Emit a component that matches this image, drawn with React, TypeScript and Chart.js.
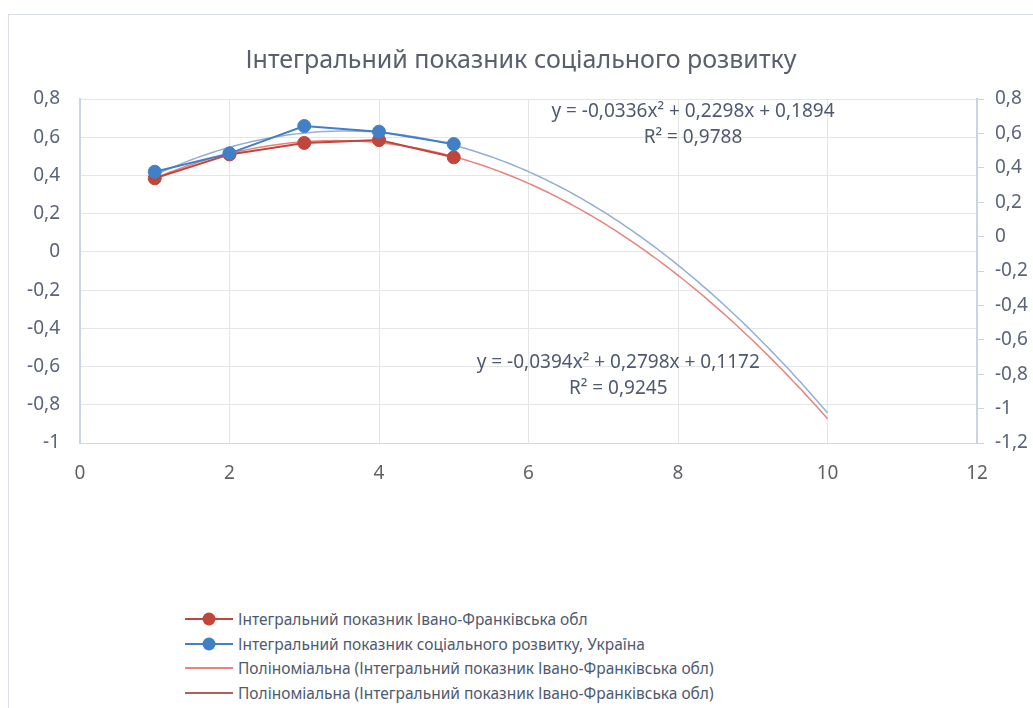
import React, { useEffect, useRef } from "react";
import { Chart, registerables } from "chart.js";

Chart.register(...registerables);

const FONT = "'Noto Sans', 'Open Sans', sans-serif";

// ---- data ----
const chartTitle = "Інтегральний показник соціального розвитку";
const periods = [1, 2, 3, 4, 5];
const ivanoFrankivskIndex = [0.385, 0.51, 0.57, 0.585, 0.495];
const ukraineIndex = [0.377, 0.484, 0.643, 0.61, 0.538];

// polynomial trend y = a·x² + b·x + c, with its R²
const ivanoFrankivskTrendCoef = [-0.0336, 0.2298, 0.1894];
const ivanoFrankivskTrendR2 = 0.9788;
const ukraineTrendCoef = [-0.0394, 0.2798, 0.1172];
const ukraineTrendR2 = 0.9245;
const trendSpan = [1, 10];

const xTickValues = [0, 2, 4, 6, 8, 10, 12];
const leftTickValues = [0.8, 0.6, 0.4, 0.2, 0, -0.2, -0.4, -0.6, -0.8, -1];
const rightTickValues = [0.8, 0.6, 0.4, 0.2, 0, -0.2, -0.4, -0.6, -0.8, -1, -1.2];

const legendLabels = [
  "Інтегральний показник Івано-Франківська обл",
  "Інтегральний показник соціального розвитку, Україна",
  "Поліноміальна (Інтегральний показник Івано-Франківська обл)",
  "Поліноміальна (Інтегральний показник Івано-Франківська обл)",
];

// ---- styles ----
const RED = "#c2453b";
const BLUE = "#4180c6";
const RED_TREND = "#e9847d";
const BLUE_TREND = "#93afd6";
const LEGEND_FOURTH = "#b0605c";
const GRID = "#e3e5e9";
const AXIS = "#c9d4e4";
const TICK_COLOR = "#5a6478";
const TEXT_COLOR = "#4f5a6f";

const fmtTick = (v: number) => String(Number(v.toFixed(2))).replace(".", ",");
const fmtCoef = (v: number) => v.toFixed(4).replace(".", ",");

const trendPoints = (coef: number[]) => {
  const pts: { x: number; y: number }[] = [];
  const n = 180;
  for (let i = 0; i <= n; i++) {
    const x = trendSpan[0] + ((trendSpan[1] - trendSpan[0]) * i) / n;
    pts.push({ x, y: coef[0] * x * x + coef[1] * x + coef[2] });
  }
  return pts;
};

const equationText = (coef: number[]) =>
  `y = ${fmtCoef(coef[0])}x² + ${fmtCoef(coef[1])}x + ${fmtCoef(coef[2])}`;

// equation boxes, anchored in axis units (x, left y)
const trendLabels = [
  { coef: ivanoFrankivskTrendCoef, r2: ivanoFrankivskTrendR2, x: 8.2, y: 0.7335 },
  { coef: ukraineTrendCoef, r2: ukraineTrendR2, x: 7.2, y: -0.5815 },
];

const trendLabelPlugin = {
  id: "trendLabels",
  afterDatasetsDraw(chart: any) {
    const { ctx, scales } = chart;
    ctx.save();
    ctx.font = `19px ${FONT}`;
    ctx.fillStyle = TEXT_COLOR;
    ctx.textAlign = "center";
    ctx.textBaseline = "middle";
    for (const lab of trendLabels) {
      const px = scales.x.getPixelForValue(lab.x);
      const py = scales.y.getPixelForValue(lab.y);
      ctx.fillText(equationText(lab.coef), px, py);
      ctx.fillText(`R² = ${fmtCoef(lab.r2)}`, px, py + 26);
    }
    ctx.restore();
  },
};

const tickFont = { family: FONT, size: 19 };

export default function App() {
  const canvasRef = useRef<HTMLCanvasElement>(null);

  useEffect(() => {
    const canvas = canvasRef.current;
    if (!canvas) return;
    const chart = new Chart(canvas, {
      type: "line",
      data: {
        datasets: [
          {
            label: legendLabels[0],
            data: periods.map((x, i) => ({ x, y: ivanoFrankivskIndex[i] })),
            borderColor: RED,
            backgroundColor: RED,
            borderWidth: 2,
            pointRadius: 6.5,
            pointBorderWidth: 1,
            yAxisID: "y",
            order: 1,
          },
          {
            label: legendLabels[1],
            data: periods.map((x, i) => ({ x, y: ukraineIndex[i] })),
            borderColor: BLUE,
            backgroundColor: BLUE,
            borderWidth: 2,
            pointRadius: 6.5,
            pointBorderWidth: 1,
            yAxisID: "y1",
            order: 0,
          },
          {
            label: legendLabels[2],
            data: trendPoints(ivanoFrankivskTrendCoef),
            borderColor: RED_TREND,
            borderWidth: 1.5,
            pointRadius: 0,
            yAxisID: "y",
            order: 2,
          },
          {
            label: legendLabels[3],
            data: trendPoints(ukraineTrendCoef),
            borderColor: BLUE_TREND,
            borderWidth: 1.5,
            pointRadius: 0,
            yAxisID: "y1",
            order: 3,
          },
        ],
      },
      options: {
        responsive: false,
        animation: false,
        devicePixelRatio: 1,
        layout: { padding: 0 },
        plugins: {
          legend: { display: false },
          tooltip: { enabled: false },
          title: {
            display: true,
            text: chartTitle,
            color: "#595f6b",
            font: { family: FONT, size: 25, weight: "normal" },
            padding: { top: 31, bottom: 23 },
          },
        },
        scales: {
          x: {
            type: "linear",
            min: 0,
            max: 12,
            afterBuildTicks: (s: any) => {
              s.ticks = xTickValues.map((value) => ({ value }));
            },
            afterFit: (s: any) => {
              s.height = 72;
            },
            grid: { color: GRID, drawTicks: false },
            border: { color: "#d5d8de", width: 1 },
            ticks: { padding: 19, color: "#606266", font: tickFont, callback: (v: any) => fmtTick(Number(v)) },
          },
          y: {
            position: "left",
            min: -1,
            max: 0.8,
            afterBuildTicks: (s: any) => {
              s.ticks = leftTickValues.map((value) => ({ value }));
            },
            afterFit: (s: any) => {
              s.width = 71;
            },
            grid: { color: GRID, drawTicks: false },
            border: { color: AXIS, width: 2 },
            ticks: { padding: 20, color: TICK_COLOR, font: tickFont, callback: (v: any) => fmtTick(Number(v)) },
          },
          y1: {
            position: "right",
            min: -1.2,
            max: 0.8,
            afterBuildTicks: (s: any) => {
              s.ticks = rightTickValues.map((value) => ({ value }));
            },
            afterFit: (s: any) => {
              s.width = 56;
            },
            grid: { drawOnChartArea: false, color: AXIS, drawTicks: true, tickLength: 7 },
            border: { color: AXIS, width: 2 },
            ticks: { padding: 11, color: TICK_COLOR, font: tickFont, callback: (v: any) => fmtTick(Number(v)) },
          },
        },
      },
      plugins: [trendLabelPlugin],
    } as any);
    return () => chart.destroy();
  }, []);

  const legendSwatches = [
    { color: RED, marker: true },
    { color: BLUE, marker: true },
    { color: RED_TREND, marker: false },
    { color: LEGEND_FOURTH, marker: false },
  ];
  const legendRowCenters = [604, 629, 653, 678];

  return (
    <div
      style={{
        position: "fixed",
        left: 0,
        top: 0,
        width: 1033,
        height: 708,
        overflow: "hidden",
        background: "#ffffff",
      }}
    >
      <div
        style={{
          position: "absolute",
          left: 8,
          top: 14,
          width: 1200,
          height: 900,
          borderTop: "1px solid #d9dee7",
          borderLeft: "1px solid #d9dee7",
          background: "#ffffff",
        }}
      >
        <canvas
          ref={canvasRef}
          width={1024}
          height={500}
          style={{ position: "absolute", left: 0, top: 0, width: 1024, height: 500 }}
        />
        {legendLabels.map((label, i) => (
          <div
            key={i}
            style={{
              position: "absolute",
              left: 176,
              top: legendRowCenters[i] - 12,
              height: 24,
              display: "flex",
              alignItems: "center",
              whiteSpace: "nowrap",
            }}
          >
            <svg width={48} height={16} style={{ display: "block" }}>
              <line x1={0} y1={8} x2={48} y2={8} stroke={legendSwatches[i].color} strokeWidth={2} />
              {legendSwatches[i].marker && <circle cx={24} cy={8} r={6.5} fill={legendSwatches[i].color} />}
            </svg>
            <span
              style={{
                marginLeft: 5,
                fontFamily: FONT,
                fontSize: 15.5,
                lineHeight: "24px",
                color: TEXT_COLOR,
              }}
            >
              {label}
            </span>
          </div>
        ))}
      </div>
    </div>
  );
}
